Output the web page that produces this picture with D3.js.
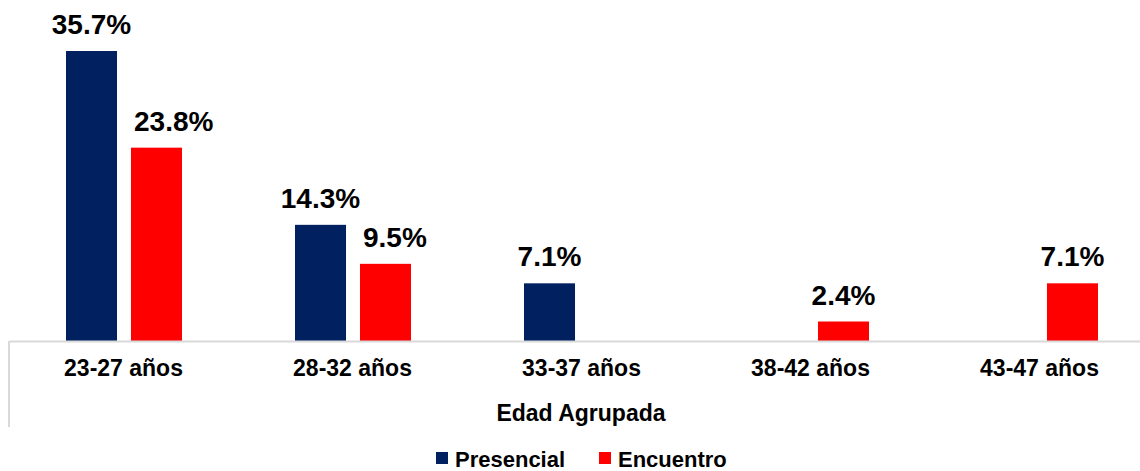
<!DOCTYPE html>
<html>
<head>
<meta charset="utf-8">
<script src="https://cdn.jsdelivr.net/npm/d3@7"></script>
<style>
  body { margin: 0; background: #fff; }
  text { font-family: "Liberation Sans", Arial, sans-serif; font-weight: bold; fill: #000; }
</style>
</head>
<body>
<div id="chart"></div>
<script>
var categories = ["23-27 años", "28-32 años", "33-37 años", "38-42 años", "43-47 años"]
var seriesNames = ["Presencial", "Encuentro"]
var presencial = [35.7, 14.3, 7.1, null, null]
var encuentro = [23.8, 9.5, null, 2.4, 7.1]
var seriesColors = ["#002060", "#ff0000"]
var axisTitle = "Edad Agrupada"

var width = 1140, height = 471
var baseline = 341

var svg = d3.select("#chart").append("svg")
  .attr("width", width)
  .attr("height", height)

var xScale = d3.scaleBand()
  .domain(categories)
  .range([9, 1154])

var subScale = d3.scaleBand()
  .domain(seriesNames)
  .range([57, 173])
  .paddingInner(0.215)

var yScale = d3.scaleLinear()
  .domain([0, 35.7])
  .range([baseline, 51])

var colorScale = d3.scaleOrdinal()
  .domain(seriesNames)
  .range(seriesColors)

var rows = []
categories.forEach(function(c, i) {
  [presencial, encuentro].forEach(function(arr, j) {
    // second bar's label is nudged right when it sits beside a first bar
    var nudge = j === 1 && presencial[i] != null
    if (arr[i] != null) rows.push({ cat: c, series: seriesNames[j], value: arr[i], nudge: nudge })
  })
})

// bars
svg.append("g").selectAll("rect")
  .data(rows)
  .enter().append("rect")
  .attr("x", function(d) { return xScale(d.cat) + subScale(d.series) })
  .attr("width", subScale.bandwidth())
  .attr("y", function(d) { return yScale(d.value) })
  .attr("height", function(d) { return baseline - yScale(d.value) })
  .attr("fill", function(d) { return colorScale(d.series) })

// value labels
svg.append("g").selectAll("text")
  .data(rows)
  .enter().append("text")
  .attr("x", function(d) {
    var x0 = xScale(d.cat) + subScale(d.series)
    return d.nudge ? x0 + 3 : x0 + subScale.bandwidth() / 2
  })
  .attr("y", function(d) { return yScale(d.value) - 17 })
  .attr("text-anchor", function(d) { return d.nudge ? "start" : "middle" })
  .style("font-size", "28px")
  .text(function(d) { return d.value.toFixed(1) + "%" })

// axis
var xAxis = d3.axisBottom(xScale).tickSize(0).tickPadding(19)
var axisG = svg.append("g")
  .attr("transform", "translate(0," + baseline + ")")
  .call(xAxis)
axisG.select(".domain").attr("stroke", "#d9d9d9").attr("stroke-width", 2)
axisG.selectAll(".tick text")
  .style("font-size", "23px")
  .style("font-family", "'Liberation Sans', Arial, sans-serif")
  .style("font-weight", "bold")
  .attr("fill", "#000")

svg.append("line")
  .attr("x1", 9).attr("x2", 9)
  .attr("y1", baseline).attr("y2", 427)
  .attr("stroke", "#d9d9d9")
  .attr("stroke-width", 2)

svg.append("text")
  .attr("x", 581)
  .attr("y", 421)
  .attr("text-anchor", "middle")
  .style("font-size", "23px")
  .text(axisTitle)

// legend
var legendX = [436, 599]
var legend = svg.append("g")
seriesNames.forEach(function(s, i) {
  legend.append("rect")
    .attr("x", legendX[i])
    .attr("y", 452)
    .attr("width", 12)
    .attr("height", 12)
    .attr("fill", colorScale(s))
  legend.append("text")
    .attr("x", legendX[i] + 19)
    .attr("y", 467)
    .style("font-size", "22px")
    .text(s)
})
</script>
</body>
</html>
